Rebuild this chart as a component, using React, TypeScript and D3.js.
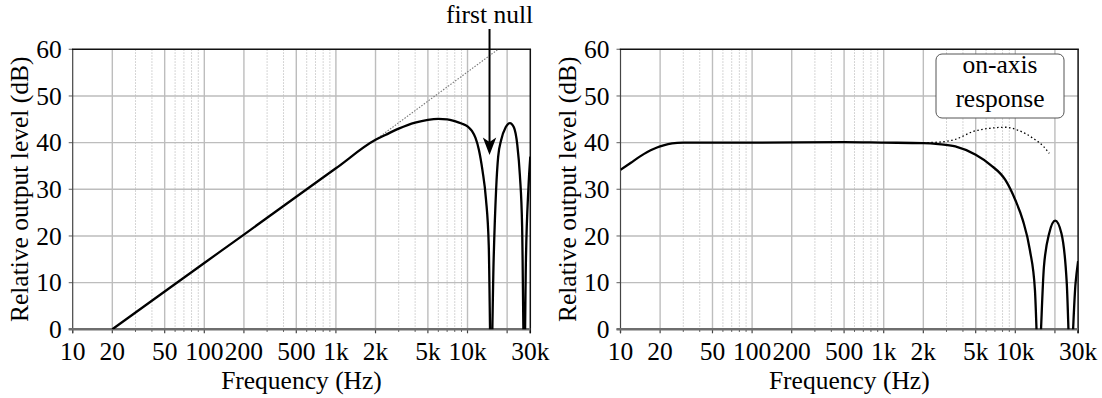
import React from 'react';
import * as d3 from 'd3';

// ---------- data ----------
const freqTickValues = [10, 20, 50, 100, 200, 500, 1000, 2000, 5000, 10000, 30000];
const freqTickLabels = ['10', '20', '50', '100', '200', '500', '1k', '2k', '5k', '10k', '30k'];
const majorGridFreqs = [20, 50, 100, 200, 500, 1000, 2000, 5000, 10000, 20000];
const minorGridFreqs = [30, 40, 60, 70, 80, 90, 300, 400, 600, 700, 800, 900, 3000, 4000, 6000, 7000, 8000, 9000];
const levelTicks = [0, 10, 20, 30, 40, 50, 60];

// left panel: solid response
const leftFreq = [20, 50, 100, 200, 500, 1000, 2000, 2400, 3000, 4000, 5000, 6000, 7000, 8000, 9000, 10000, 10800, 11500, 12200, 13000, 13800, 14500, 15100, 15800, 16500, 17100, 18000, 19500, 21000, 22500, 23900, 25000, 26000, 27000, 27800, 29000, 30000];
const leftLevel = [0, 8.1, 14.2, 20.3, 28.4, 34.5, 40.6, 41.7, 43.0, 44.3, 44.9, 45.1, 45.0, 44.6, 44.1, 43.5, 42.5, 41.0, 38.5, 34.0, 28.0, 18.0, -10, 15.0, 30.0, 37.0, 40.5, 43.3, 44.2, 43.3, 39.5, 33.0, 22.0, -10, 15.0, 30.0, 37.0];
// left panel: dotted asymptote
const asymFreq = [2000, 17100];
const asymLevel = [40.6, 60];

// right panel: solid response
const rightFreq = [10, 12, 14, 16, 18, 20, 23, 27, 30, 100, 500, 1000, 2000, 2600, 3500, 5000, 6500, 8400, 10000, 11400, 12900, 14100, 15000, 16500, 18100, 20100, 22400, 24600, 26200, 28700, 30000];
const rightLevel = [34.2, 35.7, 37.0, 38.0, 38.7, 39.2, 39.7, 39.95, 40.0, 40.0, 40.1, 40.0, 39.9, 39.7, 39.2, 37.4, 35.2, 32.0, 27.7, 23.4, 17.0, 8.4, -8, 13.4, 20.6, 23.3, 20.6, 9.9, -8, 9.9, 14.6];
// right panel: dotted on-axis response
const onAxisFreq = [2000, 2600, 3500, 4800, 6550, 8400, 10600, 13700, 16500, 18100];
const onAxisLevel = [40.0, 40.1, 40.7, 42.4, 43.1, 43.3, 42.6, 40.9, 39.1, 37.7];

// ---------- layout ----------
const W = 1102;
const H = 398;
const TOP = 49.3;
const BOTTOM = 329.3;
const PW = 457.6;
const FONT = 'Liberation Serif';
const FS = 25.5;

type Series = { f: number[]; v: number[]; dash?: string; color: string; width: number };

function Panel({ x0, id, series, children }: { x0: number; id: string; series: Series[]; children?: (x: d3.ScaleLogarithmic<number, number>, y: d3.ScaleLinear<number, number>) => React.ReactNode }) {
  const x = d3.scaleLog().domain([10, 30000]).range([x0, x0 + PW]);
  const y = d3.scaleLinear().domain([0, 60]).range([BOTTOM, TOP]);
  const x1 = x0 + PW;
  const line = d3
    .line<[number, number]>()
    .x((d) => x(d[0]))
    .y((d) => y(d[1]))
    .curve(d3.curveMonotoneX);
  return (
    <g>
      <defs>
        <clipPath id={id}>
          <rect x={x0} y={TOP} width={PW} height={BOTTOM - TOP} />
        </clipPath>
      </defs>
      {minorGridFreqs.map((f) => (
        <line key={'mg' + f} x1={x(f)} x2={x(f)} y1={TOP} y2={BOTTOM} stroke="#c8c8c8" strokeWidth={1} strokeDasharray="1.5,1.5" />
      ))}
      {majorGridFreqs.map((f) => (
        <line key={'Mg' + f} x1={x(f)} x2={x(f)} y1={TOP} y2={BOTTOM} stroke="#bdbdbd" strokeWidth={1.4} />
      ))}
      {levelTicks.slice(1, -1).map((v) => (
        <line key={'hg' + v} x1={x0} x2={x1} y1={y(v)} y2={y(v)} stroke="#bdbdbd" strokeWidth={1.4} />
      ))}
      {levelTicks.map((v) => (
        <line key={'yt' + v} x1={x0 - 4} x2={x0} y1={y(v)} y2={y(v)} stroke="#777" strokeWidth={1.2} />
      ))}
      {minorGridFreqs.map((f) => (
        <line key={'mt' + f} x1={x(f)} x2={x(f)} y1={BOTTOM} y2={BOTTOM + 2.5} stroke="#444" strokeWidth={1} />
      ))}
      {[10, ...majorGridFreqs, 30000].map((f) => (
        <line key={'Mt' + f} x1={x(f)} x2={x(f)} y1={BOTTOM} y2={BOTTOM + 4} stroke="#444" strokeWidth={1.2} />
      ))}
      <line x1={x0} x2={x0} y1={TOP} y2={BOTTOM + 4} stroke="#444" strokeWidth={1.2} />
      <line x1={x0 - 0.75} x2={x1 + 0.75} y1={TOP} y2={TOP} stroke="#111" strokeWidth={1.6} />
      <line x1={x1} x2={x1} y1={TOP} y2={BOTTOM + 4} stroke="#111" strokeWidth={1.5} />
      <line x1={x0 - 4} x2={x1} y1={BOTTOM} y2={BOTTOM} stroke="#6e6e6e" strokeWidth={2.5} />
      <g clipPath={`url(#${id})`}>
        {series.map((s, i) => (
          <path
            key={'s' + i}
            d={line(s.f.map((f, j) => [f, s.v[j]] as [number, number])) || ''}
            fill="none"
            stroke={s.color}
            strokeWidth={s.width}
            strokeDasharray={s.dash}
            strokeLinejoin="round"
          />
        ))}
      </g>
      {levelTicks.map((v) => (
        <text key={'yl' + v} x={x0 - 11} y={y(v)} dy="0.34em" textAnchor="end" fontFamily={FONT} fontSize={FS} fill="#000">
          {v}
        </text>
      ))}
      {freqTickValues.map((f, i) => (
        <text key={'xl' + f} x={x(f)} y={360} textAnchor="middle" fontFamily={FONT} fontSize={FS} fill="#000">
          {freqTickLabels[i]}
        </text>
      ))}
      <text x={x0 + PW / 2} y={388.5} textAnchor="middle" fontFamily={FONT} fontSize={FS} fill="#000">
        Frequency (Hz)
      </text>
      <text
        transform={`translate(${x0 - 44.5},${(TOP + BOTTOM) / 2}) rotate(-90)`}
        textAnchor="middle"
        fontFamily={FONT}
        fontSize={FS}
        fill="#000"
      >
        Relative output level (dB)
      </text>
      {children ? children(x, y) : null}
    </g>
  );
}

export default function App() {
  const leftX0 = 72.7;
  const rightX0 = 620.5;
  const nullFreq = 14700;
  return (
    <svg width={W} height={H} style={{ position: 'absolute', left: 0, top: 0, background: '#fff' }}>
      <rect x={0} y={0} width={W} height={H} fill="#fff" />
      <Panel
        x0={leftX0}
        id="clipL"
        series={[
          { f: asymFreq, v: asymLevel, dash: '1.5,1.5', color: '#777', width: 1.1 },
          { f: leftFreq, v: leftLevel, color: '#000', width: 2.3 },
        ]}
      >
        {(x) => {
          const ax = x(nullFreq);
          return (
            <g>
              <text x={ax} y={23.3} textAnchor="middle" fontFamily={FONT} fontSize={FS} fill="#000">
                first null
              </text>
              <line x1={ax} x2={ax} y1={29} y2={143} stroke="#000" strokeWidth={2} />
              <path d={`M${ax},155 L${ax - 6.7},137.5 L${ax},142 L${ax + 6.7},137.5 Z`} fill="#000" />
            </g>
          );
        }}
      </Panel>
      <Panel
        x0={rightX0}
        id="clipR"
        series={[
          { f: onAxisFreq, v: onAxisLevel, dash: '1.5,2.5', color: '#000', width: 1.3 },
          { f: rightFreq, v: rightLevel, color: '#000', width: 2.3 },
        ]}
      >
        {() => (
          <g>
            <rect x={936} y={54} width={128} height={64} rx={6} ry={6} fill="#fff" stroke="#555" strokeWidth={1} />
            <text x={1000} y={73.3} textAnchor="middle" fontFamily={FONT} fontSize={FS} fill="#000">
              on-axis
            </text>
            <text x={1000} y={107} textAnchor="middle" fontFamily={FONT} fontSize={FS} fill="#000">
              response
            </text>
          </g>
        )}
      </Panel>
    </svg>
  );
}
